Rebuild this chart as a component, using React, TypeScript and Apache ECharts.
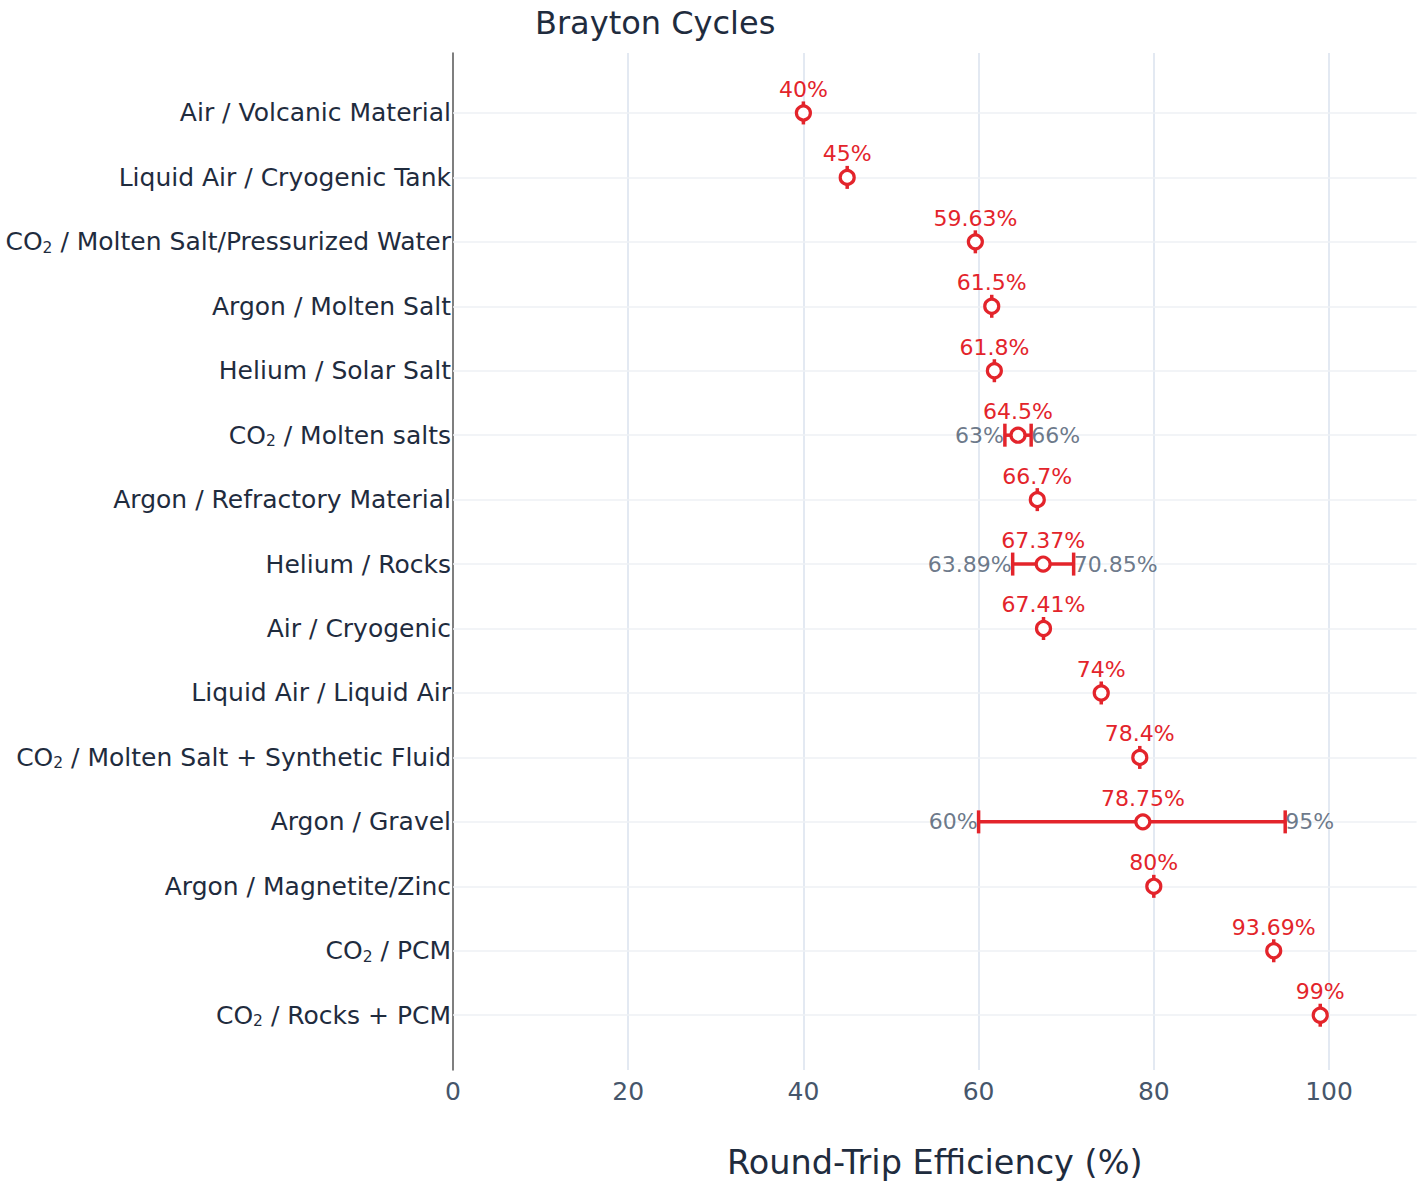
import { useEffect, useRef } from 'react';
import * as echarts from 'echarts';

const categories = [
  'Air / Volcanic Material',
  'Liquid Air / Cryogenic Tank',
  'CO2 / Molten Salt/Pressurized Water',
  'Argon / Molten Salt',
  'Helium / Solar Salt',
  'CO2 / Molten salts',
  'Argon / Refractory Material',
  'Helium / Rocks',
  'Air / Cryogenic',
  'Liquid Air / Liquid Air',
  'CO2 / Molten Salt + Synthetic Fluid',
  'Argon / Gravel',
  'Argon / Magnetite/Zinc',
  'CO2 / PCM',
  'CO2 / Rocks + PCM',
];

const efficiency = [40, 45, 59.63, 61.5, 61.8, 64.5, 66.7, 67.37, 67.41, 74, 78.4, 78.75, 80, 93.69, 99];

// ranges, null where the source gives a single value
const lowValues: (number | null)[] = [null, null, null, null, null, 63, null, 63.89, null, null, null, 60, null, null, null];
const highValues: (number | null)[] = [null, null, null, null, null, 66, null, 70.85, null, null, null, 95, null, null, null];

const xTicks = [0, 20, 40, 60, 80, 100];

const RED = '#e3242b';
const GREY = '#46566b';
const NAVY = '#1f2c3e';
const FONT = 'DejaVu Sans';

function categoryLabel(name: string) {
  if (name.startsWith('CO2')) return `{n|CO}{s|2}{n|${name.slice(3)}}`;
  return `{n|${name}}`;
}

export default function App() {
  const chartRef = useRef<HTMLDivElement>(null);

  useEffect(() => {
    if (!chartRef.current) return;
    document.body.style.margin = '0';
    document.body.style.overflow = 'hidden';

    const chart = echarts.init(chartRef.current, null, { renderer: 'svg' });

    const errData = efficiency.map((v, i) => [i, v, lowValues[i] ?? v, highValues[i] ?? v]);
    const lowData = lowValues.map((lo, i) => (lo == null ? null : [lo, i])).filter(Boolean);
    const highData = highValues.map((hi, i) => (hi == null ? null : [hi, i])).filter(Boolean);

    const option: any = {
      animation: false,
      backgroundColor: '#fff',
      title: {
        text: 'Brayton Cycles',
        left: 530,
        top: 2,
        textStyle: { fontFamily: FONT, fontSize: 32, fontWeight: 'normal', color: NAVY },
      },
      grid: { left: 453, right: 10.4, top: 53, bottom: 116, containLabel: false },
      xAxis: {
        type: 'value',
        min: 0,
        max: 110,
        splitLine: { show: false },
        axisLine: { show: false },
        axisTick: { show: false },
        axisLabel: {
          customValues: xTicks,
          fontFamily: FONT,
          fontSize: 25,
          color: GREY,
          margin: 9,
        },
        name: 'Round-Trip Efficiency (%)',
        nameLocation: 'middle',
        nameGap: 75,
        nameTextStyle: { fontFamily: FONT, fontSize: 33.5, color: NAVY },
      },
      yAxis: {
        type: 'value',
        inverse: true,
        min: -0.93,
        max: 14.85,
        splitLine: { show: false },
        axisTick: { show: false },
        axisLine: { show: true, onZero: false, lineStyle: { color: '#555', width: 1.5 } },
        axisLabel: {
          customValues: categories.map((_, i) => i),
          formatter: (v: number) => categoryLabel(categories[Math.round(v)] ?? ''),
          margin: 2,
          rich: {
            n: { fontFamily: FONT, fontSize: 25, lineHeight: 28, color: NAVY },
            s: { fontFamily: FONT, fontSize: 15.5, lineHeight: 15, color: NAVY, verticalAlign: 'bottom' },
          },
        },
      },
      series: [
        {
          type: 'line',
          data: [],
          silent: true,
          markLine: {
            silent: true,
            z: 1,
            symbol: ['none', 'none'],
            label: { show: false },
            emphasis: { disabled: true },
            data: [
              ...xTicks.filter((t) => t > 0).map((t) => ({ xAxis: t, lineStyle: { color: '#e3e9f2', width: 2, type: 'solid' } })),
              ...categories.map((_, i) => ({ yAxis: i, lineStyle: { color: '#eef1f5', width: 1.5, type: 'solid' } })),
            ],
          },
        },
        {
          type: 'custom',
          z: 3,
          silent: true,
          data: errData,
          encode: { x: [1, 2, 3], y: 0 },
          renderItem: (_params: any, api: any) => {
            const y = api.value(0);
            const lo = api.coord([api.value(2), y]);
            const hi = api.coord([api.value(3), y]);
            const cap = 11.5;
            const style = { stroke: RED, lineWidth: 3.5 };
            const children: any[] = [
              { type: 'line', shape: { x1: lo[0], y1: lo[1] - cap, x2: lo[0], y2: lo[1] + cap }, style },
            ];
            if (hi[0] - lo[0] > 0.5) {
              children.push({ type: 'line', shape: { x1: lo[0], y1: lo[1], x2: hi[0], y2: hi[1] }, style });
              children.push({ type: 'line', shape: { x1: hi[0], y1: hi[1] - cap, x2: hi[0], y2: hi[1] + cap }, style });
            }
            return { type: 'group', children };
          },
        },
        {
          type: 'scatter',
          z: 4,
          data: efficiency.map((v, i) => [v, i]),
          symbol: 'circle',
          symbolSize: 14,
          itemStyle: { color: '#fff', borderColor: RED, borderWidth: 3.2, opacity: 1 },
          label: {
            show: true,
            position: 'top',
            distance: 4,
            formatter: (p: any) => `${p.value[0]}%`,
            fontFamily: FONT,
            fontSize: 22,
            lineHeight: 22,
            color: RED,
          },
        },
        {
          type: 'scatter',
          z: 4,
          data: lowData,
          symbolSize: 0,
          label: {
            show: true,
            position: 'left',
            distance: 1,
            formatter: (p: any) => `${p.value[0]}%`,
            fontFamily: FONT,
            fontSize: 22,
            color: GREY,
          },
        },
        {
          type: 'scatter',
          z: 4,
          data: highData,
          symbolSize: 0,
          label: {
            show: true,
            position: 'right',
            distance: 0,
            formatter: (p: any) => `${p.value[0]}%`,
            fontFamily: FONT,
            fontSize: 22,
            color: GREY,
          },
        },
      ],
    };

    chart.setOption(option);

    return () => {
      chart.dispose();
    };
  }, []);

  return <div ref={chartRef} style={{ width: 1427, height: 1186 }} />;
}
